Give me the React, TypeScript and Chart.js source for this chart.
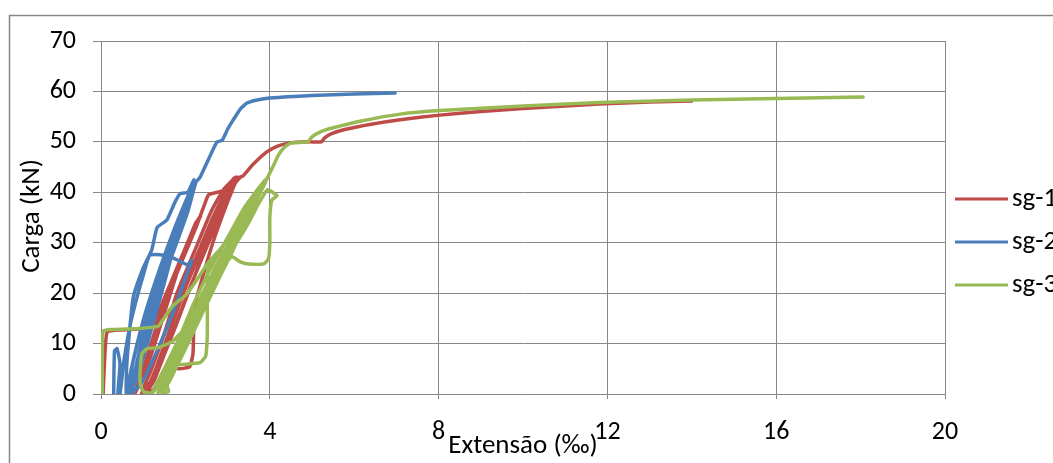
import React, { useEffect, useRef } from "react";
import { Chart, registerables } from "chart.js";

Chart.register(...registerables);

const seriesNames = ["sg-1", "sg-2", "sg-3"];
const seriesColors = ["#BE4B48", "#4A7EBB", "#98B954"];
const xTickValues = [0, 4, 8, 12, 16, 20];
const yTickValues = [0, 10, 20, 30, 40, 50, 60, 70];
const xTitle = "Extensão (‰)";
const yTitle = "Carga (kN)";

// sg-1 (red): [strain ‰, load kN]
const sg1: [number, number][] = [
  [0.05, 0], [0.1, 9], [0.15, 12.3], [0.5, 12.7], [1.0, 13], [1.25, 14],
  [1.5, 19], [1.8, 25], [2.05, 30], [2.25, 34], [2.36, 35.2], [2.3, 34.6],
  [2.1, 31], [1.8, 24], [1.5, 16], [1.2, 8], [0.95, 2.5], [0.8, 0],
  [1.0, 5], [1.3, 13], [1.6, 20], [1.95, 27], [2.25, 33], [2.45, 37.5], [2.55, 39.5],
  [2.75, 40], [2.95, 40.5], [3.1, 42], [3.25, 43], [3.2, 42.2],
  [2.95, 37], [2.65, 30], [2.4, 23], [2.27, 19], [2.2, 14], [2.18, 8], [2.1, 5.4],
  [1.85, 5], [1.65, 5.3], [1.45, 3.5], [1.25, 1], [1.1, 0],
  [1.3, 5], [1.6, 12], [1.9, 20], [2.3, 28], [2.65, 35], [2.95, 40], [3.15, 42.8],
  [3.0, 39.5], [2.65, 33], [2.2, 23], [1.75, 13], [1.3, 4], [0.95, 0],
  [1.2, 5], [1.5, 12], [1.8, 20], [2.2, 28], [2.6, 36], [2.9, 40.5], [3.2, 43],
  [3.0, 39], [2.6, 31], [2.1, 21], [1.6, 10], [1.25, 2.5], [1.05, 0],
  [1.3, 5], [1.65, 13], [2.0, 21], [2.4, 29], [2.8, 37], [3.1, 41], [3.3, 43],
  [3.37, 43.3], [3.6, 45.5], [3.93, 48], [4.2, 49.2], [4.48, 49.8], [4.95, 50],
  [5.22, 50], [5.3, 50.8], [5.45, 51.6], [5.8, 52.5], [6.4, 53.5], [7.09, 54.4],
  [8.03, 55.3], [9, 56], [10, 56.6], [11.8, 57.5], [13, 57.9], [14, 58.1],
];

// sg-2 (blue)
const sg2: [number, number][] = [
  [0.3, 0], [0.32, 8.5], [0.38, 9], [0.45, 6], [0.4, 0],
  [0.45, 0], [0.55, 7], [0.7, 14], [0.88, 20], [1.0, 23.5], [1.15, 27.5],
  [1.4, 27.6], [1.7, 27], [1.9, 26.2], [2.05, 25.6], [2.15, 26.5],
  [2.0, 23], [1.7, 16], [1.3, 8], [0.95, 2], [0.7, 0],
  [0.95, 10], [1.2, 20], [1.6, 29], [1.95, 36], [2.1, 39],
  [1.95, 35], [1.55, 26], [1.15, 15], [0.85, 5], [0.6, 0],
  [0.62, 7], [0.76, 19], [1.0, 25], [1.2, 28.5], [1.33, 33], [1.56, 34.5],
  [1.75, 38], [1.87, 39.7], [2.06, 40], [2.2, 42.5],
  [2.1, 40], [1.85, 33], [1.5, 22], [1.1, 10], [0.8, 2], [0.65, 0],
  [0.75, 6], [1.0, 14], [1.25, 20], [1.65, 29], [2.0, 37], [2.15, 41],
  [2.0, 36], [1.6, 27], [1.2, 17], [0.9, 7], [0.7, 0],
  [0.9, 8], [1.15, 16], [1.45, 24], [1.8, 32], [2.1, 39], [2.2, 41.5],
  [2.05, 37], [1.7, 28], [1.3, 18], [0.95, 8], [0.6, 0],
  [0.8, 8], [1.05, 16], [1.4, 25], [1.75, 33], [2.1, 40],
  [1.9, 35], [1.5, 24], [1.1, 13], [0.8, 4], [0.65, 0],
  [0.85, 6], [1.1, 14], [1.35, 20], [1.75, 29], [2.05, 36], [2.25, 42],
  [2.35, 43], [2.6, 47.5], [2.75, 50], [2.87, 50.3], [3.0, 52.5], [3.13, 54.3],
  [3.3, 56.5], [3.46, 57.7], [3.7, 58.3], [4.0, 58.7], [5.0, 59.2], [6.0, 59.5],
  [6.97, 59.7],
];

// sg-3 (green)
const sg3: [number, number][] = [
  [0.03, 0], [0.05, 12.5], [0.3, 12.8], [0.9, 13], [1.35, 13.4], [1.45, 14.5],
  [1.7, 17.5], [2.0, 19.5], [2.3, 23], [2.58, 26.5], [2.9, 28.2], [3.2, 30],
  [3.5, 34], [3.75, 38], [3.95, 40.5], [4.17, 39.3], [4.05, 38.5], [4.0, 35],
  [4.0, 30], [3.97, 26.8], [3.85, 25.8], [3.5, 25.8], [3.3, 26.2], [3.1, 27.2],
  [2.85, 25], [2.5, 19], [2.1, 12], [1.7, 6], [1.4, 2], [1.2, 0],
  [1.5, 5], [1.85, 11], [2.2, 18], [2.6, 25], [3.0, 31], [3.4, 37], [3.75, 41], [3.9, 42.5],
  [3.6, 39], [3.2, 33], [2.85, 29], [2.6, 26.5], [2.52, 24], [2.52, 18], [2.52, 12],
  [2.48, 7.5], [2.35, 6.2], [2.0, 5.9], [1.75, 5.7], [1.62, 4], [1.57, 1.5], [1.6, 0.5], [1.45, 0],
  [1.65, 3], [2.0, 9], [2.4, 16], [2.8, 23], [3.2, 30], [3.6, 37], [3.9, 42],
  [3.6, 37], [3.1, 28], [2.6, 20], [2.1, 14], [1.7, 10.5], [1.35, 9.2], [1.1, 9],
  [0.97, 8], [0.93, 5], [0.93, 2], [1.0, 0.5], [1.2, 0.2],
  [1.5, 4], [1.9, 11], [2.3, 18], [2.7, 25], [3.1, 31], [3.5, 37], [3.8, 41], [3.95, 43],
  [3.7, 39], [3.3, 33], [2.8, 24], [2.3, 15], [1.8, 6.5], [1.45, 0.3],
  [1.7, 7], [2.1, 14], [2.5, 21], [2.9, 27], [3.3, 33], [3.7, 40], [3.9, 42],
  [3.6, 38], [3.1, 30], [2.6, 22], [2.1, 13], [1.7, 6], [1.35, 0.2],
  [1.55, 3], [1.95, 10], [2.35, 17], [2.75, 24], [3.15, 31], [3.55, 38], [3.85, 42],
  [3.5, 36], [3.0, 28], [2.5, 19], [2.0, 11], [1.6, 4], [1.4, 0.5],
  [1.6, 2.5], [2.0, 9], [2.45, 17], [2.9, 25], [3.3, 32], [3.7, 39], [3.95, 43],
  [4.1, 45.5], [4.2, 47.3], [4.35, 49], [4.5, 49.8], [4.9, 50], [5.0, 51], [5.2, 52],
  [5.5, 52.8], [6.2, 54.2], [7.09, 55.5], [8.03, 56.2], [10, 57.1], [11.8, 57.8],
  [14, 58.3], [16, 58.6], [18.06, 58.9],
];

const seriesData = [sg1, sg2, sg3];

const FONT_FAMILY = "Carlito, Calibri, Lato, sans-serif";
const TICK_SIZE = 26;
const TEXT_SIZE = 27;
const GRID = "#878787";

const decorPlugin = {
  id: "decor",
  beforeDraw(chart: any) {
    const ctx = chart.ctx;
    ctx.save();
    ctx.fillStyle = "#ffffff";
    ctx.fillRect(0, 0, chart.width, chart.height);
    ctx.strokeStyle = GRID;
    ctx.lineWidth = 1.5;
    ctx.strokeRect(9.5, 15.5, 3000, 3000);
    ctx.restore();
  },
  afterDraw(chart: any) {
    const ctx = chart.ctx;
    ctx.save();
    ctx.fillStyle = "#000";
    ctx.font = `${TEXT_SIZE}px ${FONT_FAMILY}`;
    // y title
    ctx.save();
    ctx.translate(32, 216);
    ctx.rotate(-Math.PI / 2);
    ctx.textAlign = "center";
    ctx.textBaseline = "middle";
    ctx.fillText(yTitle, 0, 0);
    ctx.restore();
    // x title
    ctx.textAlign = "center";
    ctx.textBaseline = "middle";
    ctx.fillText(xTitle, 523, 446);
    // legend
    const ys = [199, 242, 285];
    seriesNames.forEach((name, i) => {
      ctx.strokeStyle = seriesColors[i];
      ctx.lineWidth = 3;
      ctx.beginPath();
      ctx.moveTo(955, ys[i]);
      ctx.lineTo(1008, ys[i]);
      ctx.stroke();
      ctx.textAlign = "left";
      ctx.fillText(name, 1012, ys[i]);
    });
    ctx.restore();
  },
};

export default function App() {
  const ref = useRef<HTMLCanvasElement | null>(null);
  useEffect(() => {
    document.body.style.margin = "0";
    const canvas = ref.current;
    if (!canvas) return;
    const chart = new Chart(canvas, {
      type: "scatter",
      data: {
        datasets: seriesData.map((pts, i) => ({
          label: seriesNames[i],
          data: pts.map(([x, y]) => ({ x, y })),
          showLine: true,
          borderColor: seriesColors[i],
          backgroundColor: seriesColors[i],
          borderWidth: 3.5,
          pointRadius: 0,
          tension: 0.15,
          borderJoinStyle: "round",
          borderCapStyle: "round",
          order: 3 - i,
        })),
      },
      options: {
        animation: false,
        responsive: false,
        devicePixelRatio: 1,
        layout: { padding: { left: 0, top: 41, right: 108, bottom: 0 } },
        plugins: { legend: { display: false }, tooltip: { enabled: false } },
        scales: {
          x: {
            type: "linear",
            min: 0,
            max: 20,
            afterBuildTicks: (s: any) => {
              s.ticks = xTickValues.map((v) => ({ value: v }));
            },
            afterFit: (s: any) => {
              s.height = 69;
            },
            grid: { color: GRID, lineWidth: 1, tickLength: 5 },
            border: { color: GRID, width: 1 },
            ticks: {
              color: "#000",
              padding: 18,
              maxRotation: 0,
              autoSkip: false,
              font: { family: FONT_FAMILY, size: TICK_SIZE },
            },
          },
          y: {
            type: "linear",
            min: 0,
            max: 70,
            afterBuildTicks: (s: any) => {
              s.ticks = yTickValues.map((v) => ({ value: v }));
            },
            afterFit: (s: any) => {
              s.width = 101;
            },
            grid: { color: GRID, lineWidth: 1, tickLength: 8 },
            border: { color: GRID, width: 1 },
            ticks: {
              color: "#000",
              padding: 17,
              autoSkip: false,
              font: { family: FONT_FAMILY, size: TICK_SIZE },
            },
          },
        },
      },
      plugins: [decorPlugin],
    } as any);
    return () => chart.destroy();
  }, []);
  return <canvas ref={ref} width={1053} height={463} style={{ display: "block" }} />;
}
